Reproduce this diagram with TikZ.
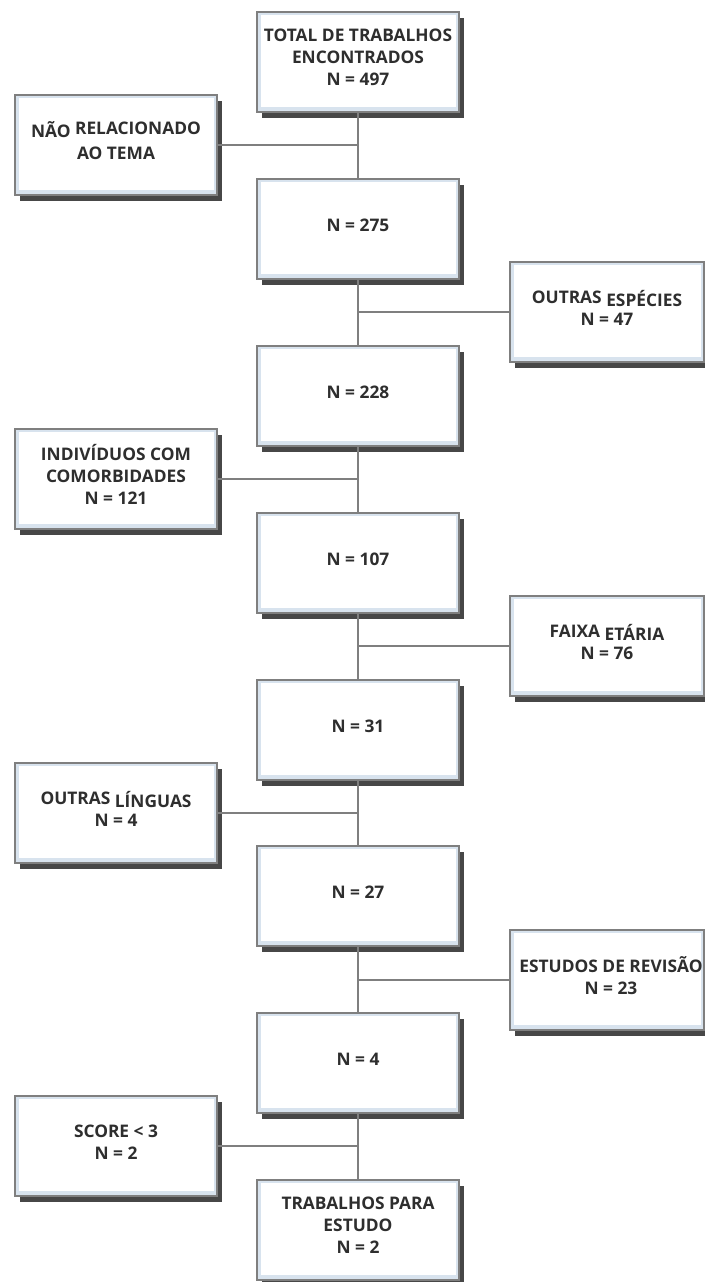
\documentclass[tikz,border=0pt]{standalone}
\usepackage{fontspec}
\setmainfont{Open Sans}
\usepackage{xcolor}
\usetikzlibrary{shadows}

\definecolor{linegray}{HTML}{7F7F7F}
\definecolor{bevelblue}{HTML}{D8E3EE}
\definecolor{inktext}{HTML}{2E2E2E}
% accented words sit a little lower in the original
\newcommand{\lowword}[1]{\raisebox{-2.5pt}{#1}}
\newcommand{\highword}[1]{\raisebox{2.5pt}{#1}}

\begin{document}
\begin{tikzpicture}[x=0.75pt,y=-0.75pt]
		\tikzstyle{box}=[draw=linegray, line width=1.1pt, fill=bevelblue, minimum width=151.5pt, minimum height=75pt, inner sep=0pt,
			drop shadow={shadow xshift=3.5pt, shadow yshift=-4.3pt, fill=black!72, opacity=1},
			path picture={\fill[white] ([shift={(3pt,3.5pt)}]path picture bounding box.south west) rectangle ([shift={(-2pt,-2pt)}]path picture bounding box.north east);}]
		\tikzstyle{box_right}=[box, minimum width=145.5pt]
		\tikzstyle{node_text}=[font=\bfseries\fontsize{13}{16.5}\selectfont, text=inktext, align=center, inner sep=0pt]
		\tikzstyle{link}=[draw=linegray, line width=1.1pt]

		\useasboundingbox (0,0) rectangle (705,1282);

		% main column
		\node [box] (b1) at (358,62) {};
		\node [box] (b2) at (358,229) {};
		\node [box] (b3) at (358,396) {};
		\node [box] (b4) at (358,563) {};
		\node [box] (b5) at (358,730) {};
		\node [box] (b6) at (358,896) {};
		\node [box] (b7) at (358,1063) {};
		\node [box] (b8) at (358,1230) {};

		% excluded
		\node [box] (s1) at (116,145) {};
		\node [box_right] (s2) at (607,312) {};
		\node [box] (s3) at (116,479) {};
		\node [box_right] (s4) at (607,646) {};
		\node [box] (s5) at (116,813) {};
		\node [box_right] (s6) at (607,980) {};
		\node [box] (s7) at (116,1146) {};

		% texts
		\node (b1t) at ([yshift=3.5pt]b1.center) [node_text] {TOTAL DE TRABALHOS\\ENCONTRADOS\\N = 497};
		\node (b2t) at ([yshift=3pt]b2.center) [node_text] {N = 275};
		\node (b3t) at ([yshift=3pt]b3.center) [node_text] {N = 228};
		\node (b4t) at ([yshift=3pt]b4.center) [node_text] {N = 107};
		\node (b5t) at ([yshift=3pt]b5.center) [node_text] {N = 31};
		\node (b6t) at ([yshift=3pt]b6.center) [node_text] {N = 27};
		\node (b7t) at ([yshift=3pt]b7.center) [node_text] {N = 4};
		\node (b8t) at ([yshift=3.5pt]b8.center) [node_text] {TRABALHOS PARA\\ESTUDO\\N = 2};

		\node (s1t) at ([yshift=3pt]s1.center) [node_text] {NÃO \highword{RELACIONADO}\\AO TEMA};
		\node (s2t) at ([yshift=3pt]s2.center) [node_text] {OUTRAS \lowword{ESPÉCIES}\\N = 47};
		\node (s3t) at ([yshift=3.5pt]s3.center) [node_text] {INDIVÍDUOS COM\\COMORBIDADES\\N = 121};
		\node (s4t) at ([yshift=3pt]s4.center) [node_text] {FAIXA \lowword{ETÁRIA}\\N = 76};
		\node (s5t) at ([yshift=3pt]s5.center) [node_text] {OUTRAS \lowword{LÍNGUAS}\\N = 4};
		\node (s6t) at ([yshift=3pt,xshift=3pt]s6.center) [node_text] {ESTUDOS DE REVISÃO\\N = 23};
		\node (s7t) at ([yshift=3pt]s7.center) [node_text] {SCORE < 3\\N = 2};

		% connectors
		\draw [link] (b1.south) -- (b2.north);
		\draw [link] (b2.south) -- (b3.north);
		\draw [link] (b3.south) -- (b4.north);
		\draw [link] (b4.south) -- (b5.north);
		\draw [link] (b5.south) -- (b6.north);
		\draw [link] (b6.south) -- (b7.north);
		\draw [link] (b7.south) -- (b8.north);

		\draw [link] (s1.east) -- (s1.east -| b1.south);
		\draw [link] (s2.west) -- (s2.west -| b2.south);
		\draw [link] (s3.east) -- (s3.east -| b3.south);
		\draw [link] (s4.west) -- (s4.west -| b4.south);
		\draw [link] (s5.east) -- (s5.east -| b5.south);
		\draw [link] (s6.west) -- (s6.west -| b6.south);
		\draw [link] (s7.east) -- (s7.east -| b7.south);

	\end{tikzpicture}
\end{document}
